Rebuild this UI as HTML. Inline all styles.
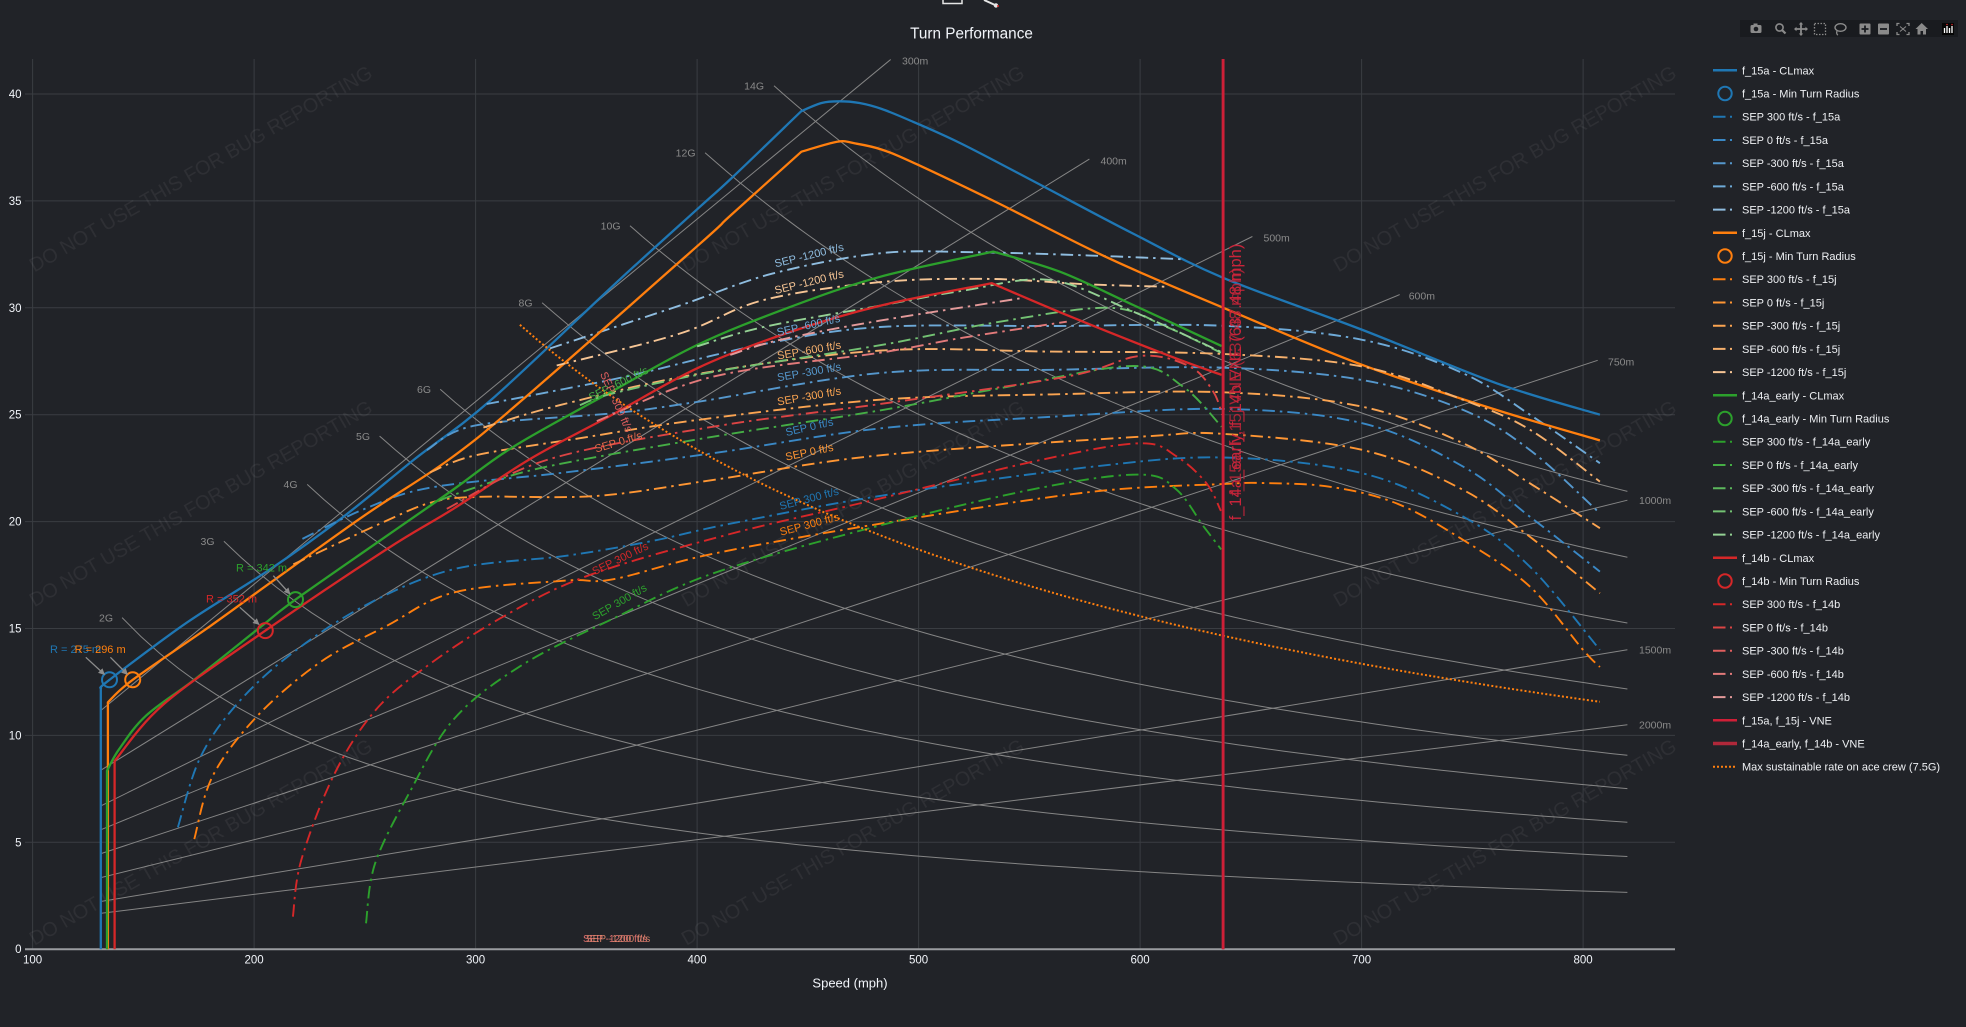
<!DOCTYPE html>
<html><head><meta charset="utf-8">
<style>
html,body{margin:0;padding:0;background:#212328;width:1966px;height:1027px;overflow:hidden}
svg{display:block;font-family:"Liberation Sans",Arial,sans-serif}
</style></head><body>
<svg id="s" width="1966" height="1027" viewBox="0 0 1966 1027" xmlns="http://www.w3.org/2000/svg">
<defs>
<clipPath id="cp"><rect x="25" y="59" width="1650" height="891"/></clipPath>
<marker id="ah" viewBox="0 0 10 10" refX="9" refY="5" markerWidth="5" markerHeight="5" orient="auto"><path d="M0,0L10,5L0,10z" fill="#8c8c8c"/></marker>
</defs>
<rect width="1966" height="1027" fill="#212328"/>

<!-- top icons -->
<path d="M943,0V3.5H962V0" stroke="#e6e6e6" fill="none" stroke-width="1.5"/>
<path d="M984,0L995,5" stroke="#e6e6e6" stroke-width="2"/><circle cx="996" cy="5.5" r="2.2" fill="#e6e6e6"/><circle cx="998" cy="6" r="1" fill="#d62728"/>

<!-- title -->
<text x="971.5" y="38.5" text-anchor="middle" font-size="15.3" fill="#f2f5fa">Turn Performance</text>

<!-- modebar -->
<g>
<rect x="1740" y="20" width="218" height="17" fill="#191b1f"/>
<g fill="#8a8a8a" stroke="#8a8a8a">
<rect x="1750.5" y="25" width="11" height="8" rx="1.5" stroke="none"/><rect x="1753.5" y="23.5" width="4" height="2" stroke="none"/><circle cx="1756" cy="29" r="2.3" fill="#191b1f" stroke="none"/>
<circle cx="1779.5" cy="27.5" r="3.6" fill="none" stroke-width="1.6"/><path d="M1782,30L1785.5,33.5" stroke-width="2.2"/>
<path d="M1801,23V35M1795,29H1807" stroke-width="1.8" fill="none"/><path d="M1801,22l-2.2,2.5h4.4zM1801,36l-2.2,-2.5h4.4zM1794,29l2.5,-2.2v4.4zM1808,29l-2.5,-2.2v4.4z" stroke="none"/>
<rect x="1814.5" y="23.5" width="11" height="11" fill="none" stroke-width="1.3" stroke-dasharray="1.5 1.5"/>
<ellipse cx="1840.5" cy="27.5" rx="5.5" ry="3.8" fill="none" stroke-width="1.4"/><path d="M1837,31Q1836,34 1838,35" fill="none" stroke-width="1.3"/>
<rect x="1859.5" y="23.5" width="11" height="11" rx="1" stroke="none"/><path d="M1865,25.5V32.5M1861.5,29H1868.5" stroke="#191b1f" stroke-width="1.8"/>
<rect x="1878" y="23.5" width="11" height="11" rx="1" stroke="none"/><path d="M1880,29H1887" stroke="#191b1f" stroke-width="1.8"/>
<path d="M1897,26V23.5H1899.5M1906.5,23.5H1909V26M1909,32V34.5H1906.5M1899.5,34.5H1897V32" fill="none" stroke-width="1.3"/><path d="M1900,26.5L1906,31.5M1906,26.5L1900,31.5" stroke-width="1"/>
<path d="M1921.7,23L1915.5,29H1917.5V34.5H1920.5V31H1923V34.5H1926V29H1928z" stroke="none"/>
</g>
<rect x="1942" y="23" width="12" height="12" fill="#050505"/>
<path d="M1944.5,33V28M1947,33V26M1949.5,33V28M1952,33V26" stroke="#ffffff" stroke-width="1.3"/>
<circle cx="1947" cy="24.5" r="0.8" fill="#d62728"/><circle cx="1952" cy="24.5" r="0.8" fill="#d62728"/>
</g>

<g id="grid"></g>
<g id="ref" clip-path="url(#cp)"></g>

<!-- G line labels -->
<g font-size="10.5" fill="#8a8a8a" text-anchor="end">
<text x="113" y="621.3">2G</text>
<text x="214.5" y="545">3G</text>
<text x="297.5" y="488.1">4G</text>
<text x="370" y="439.8">5G</text>
<text x="431" y="392.9">6G</text>
<text x="532.5" y="306.4">8G</text>
<text x="620.5" y="229.4">10G</text>
<text x="695.5" y="156.5">12G</text>
<text x="764" y="89.4">14G</text>
</g>
<!-- radius labels -->
<g font-size="10.5" fill="#8a8a8a">
<text x="902" y="64.4">300m</text>
<text x="1100.5" y="164.4">400m</text>
<text x="1263.5" y="241.7">500m</text>
<text x="1408.7" y="299.4">600m</text>
<text x="1608" y="365.4">750m</text>
<text x="1639" y="504.2">1000m</text>
<text x="1639" y="653.6">1500m</text>
<text x="1639" y="728.4">2000m</text>
</g>

<!-- watermark -->
<g font-size="20" fill="#ffffff" fill-opacity="0.06" text-anchor="middle">
<text transform="translate(200.6,168.6) rotate(-30)" dy="7" textLength="392" lengthAdjust="spacingAndGlyphs">DO NOT USE THIS FOR BUG REPORTING</text>
<text transform="translate(852.6,168.6) rotate(-30)" dy="7" textLength="392" lengthAdjust="spacingAndGlyphs">DO NOT USE THIS FOR BUG REPORTING</text>
<text transform="translate(1504.6,168.6) rotate(-30)" dy="7" textLength="392" lengthAdjust="spacingAndGlyphs">DO NOT USE THIS FOR BUG REPORTING</text>
<text transform="translate(200.6,503.4) rotate(-30)" dy="7" textLength="392" lengthAdjust="spacingAndGlyphs">DO NOT USE THIS FOR BUG REPORTING</text>
<text transform="translate(852.6,503.4) rotate(-30)" dy="7" textLength="392" lengthAdjust="spacingAndGlyphs">DO NOT USE THIS FOR BUG REPORTING</text>
<text transform="translate(1504.6,503.4) rotate(-30)" dy="7" textLength="392" lengthAdjust="spacingAndGlyphs">DO NOT USE THIS FOR BUG REPORTING</text>
<text transform="translate(200.6,842) rotate(-30)" dy="7" textLength="392" lengthAdjust="spacingAndGlyphs">DO NOT USE THIS FOR BUG REPORTING</text>
<text transform="translate(852.6,842) rotate(-30)" dy="7" textLength="392" lengthAdjust="spacingAndGlyphs">DO NOT USE THIS FOR BUG REPORTING</text>
<text transform="translate(1504.6,842) rotate(-30)" dy="7" textLength="392" lengthAdjust="spacingAndGlyphs">DO NOT USE THIS FOR BUG REPORTING</text>
</g>

<g id="cur" clip-path="url(#cp)"></g>

<!-- min turn radius markers -->
<g fill="none" stroke-width="2">
<circle cx="109.5" cy="679.8" r="7.5" stroke="#1f77b4"/>
<circle cx="132.7" cy="679.8" r="7.5" stroke="#ff7f0e"/>
<circle cx="295.5" cy="599.6" r="7.5" stroke="#2ca02c"/>
<circle cx="265.3" cy="630.6" r="7.5" stroke="#d62728"/>
</g>
<!-- annotations -->
<g stroke="#8c8c8c" stroke-width="1.3" marker-end="url(#ah)">
<line x1="85.8" y1="657.3" x2="104.5" y2="674.5"/>
<line x1="110.4" y1="657.3" x2="127.5" y2="674.5"/>
<line x1="273.3" y1="575.7" x2="290" y2="594"/>
<line x1="239.8" y1="607.3" x2="259" y2="624.5"/>
</g>
<g font-size="11">
<text x="50" y="653" fill="#1f77b4">R = 275 m</text>
<text x="74.6" y="653" fill="#ff7f0e">R = 296 m</text>
<text x="236" y="571.3" fill="#2ca02c">R = 342 m</text>
<text x="206" y="602.3" fill="#d62728">R = 352 m</text>
</g>

<!-- SEP labels -->
<g font-size="11" text-anchor="middle">
<text transform="translate(809,255) rotate(-14)" dy="4" fill="#8fbde0">SEP -1200 ft/s</text>
<text transform="translate(809,281.7) rotate(-14)" dy="4" fill="#f6c595">SEP -1200 ft/s</text>
<text transform="translate(808.3,325) rotate(-13)" dy="4" fill="#6eaad8">SEP -600 ft/s</text>
<text transform="translate(809,350) rotate(-10)" dy="4" fill="#f6b06c">SEP -600 ft/s</text>
<text transform="translate(809,371.7) rotate(-10)" dy="4" fill="#5597cc">SEP -300 ft/s</text>
<text transform="translate(809,396) rotate(-10)" dy="4" fill="#fba451">SEP -300 ft/s</text>
<text transform="translate(809.3,426.7) rotate(-13)" dy="4" fill="#3a88c5">SEP 0 ft/s</text>
<text transform="translate(809.3,451.7) rotate(-12)" dy="4" fill="#ff9633">SEP 0 ft/s</text>
<text transform="translate(809,498.3) rotate(-15)" dy="4" fill="#1f77b4">SEP 300 ft/s</text>
<text transform="translate(809.3,524) rotate(-15)" dy="4" fill="#ff7f0e">SEP 300 ft/s</text>
<text transform="translate(620,558.3) rotate(-26)" dy="4" fill="#d62728">SEP 300 ft/s</text>
<text transform="translate(619.3,601.7) rotate(-30)" dy="4" fill="#2ca02c">SEP 300 ft/s</text>
<text transform="translate(618.3,383.3) rotate(-26)" dy="4" fill="#45ad45">SEP -600 ft/s</text>
<text transform="translate(616.7,401.7) rotate(66)" dy="4" fill="#e05e5e">SEP -300 ft/s</text>
<text transform="translate(618.3,441.7) rotate(-17)" dy="4" fill="#ec6a4a">SEP 0 ft/s</text>
</g>
<g font-size="10">
<text x="583" y="942" fill="#e07070">SEP -1200 ft/s</text>
<text x="586" y="942" fill="#ee8f72" fill-opacity="0.85">SEP -1200 ft/s</text>
</g>

<!-- VNE -->
<line x1="1223.1" y1="59" x2="1223.1" y2="949.2" stroke="#b5253a" stroke-width="3"/>
<line x1="1223.1" y1="59" x2="1223.1" y2="949.2" stroke="#d01f37" stroke-width="2"/>
<g font-size="16.5" fill="#c8243a" text-anchor="middle">
<text transform="translate(1241,382) rotate(-90)">f_14a_early, f_14b VNE (637.48 mph)</text>
<text transform="translate(1241,382) rotate(-90)" fill-opacity="0.8">f_15a, f_15j VNE (637.48 mph)</text>
</g>

<!-- tick labels -->
<g font-size="11.5" fill="#f2f5fa" text-anchor="end">
<text x="21.5" y="98">40</text>
<text x="21.5" y="204.9">35</text>
<text x="21.5" y="311.8">30</text>
<text x="21.5" y="418.7">25</text>
<text x="21.5" y="525.6">20</text>
<text x="21.5" y="632.5">15</text>
<text x="21.5" y="739.4">10</text>
<text x="21.5" y="846.3">5</text>
<text x="21.5" y="953.2">0</text>
</g>
<g font-size="11.5" fill="#f2f5fa" text-anchor="middle">
<text x="32.6" y="963.5">100</text>
<text x="254.1" y="963.5">200</text>
<text x="475.6" y="963.5">300</text>
<text x="697.1" y="963.5">400</text>
<text x="918.6" y="963.5">500</text>
<text x="1140.1" y="963.5">600</text>
<text x="1361.6" y="963.5">700</text>
<text x="1583.1" y="963.5">800</text>
</g>
<text x="850" y="987.5" font-size="13" fill="#f2f5fa" text-anchor="middle">Speed (mph)</text>

<!-- legend -->
<g id="leg">
<g stroke-width="2.5">
<line x1="1713" y1="70.3" x2="1737" y2="70.3" stroke="#1f77b4"/>
<line x1="1713" y1="232.8" x2="1737" y2="232.8" stroke="#ff7f0e"/>
<line x1="1713" y1="395.3" x2="1737" y2="395.3" stroke="#2ca02c"/>
<line x1="1713" y1="557.8" x2="1737" y2="557.8" stroke="#d62728"/>
<line x1="1713" y1="720.3" x2="1737" y2="720.3" stroke="#d01f37"/>
<line x1="1713" y1="743.5" x2="1737" y2="743.5" stroke="#b0283a" stroke-width="3.5"/>
</g>
<line x1="1713" y1="766.7" x2="1737" y2="766.7" stroke="#ff7f0e" stroke-width="2" stroke-dasharray="2 2"/>
<g fill="none" stroke-width="2">
<circle cx="1725" cy="93.5" r="6.7" stroke="#1f77b4"/>
<circle cx="1725" cy="256" r="6.7" stroke="#ff7f0e"/>
<circle cx="1725" cy="418.5" r="6.7" stroke="#2ca02c"/>
<circle cx="1725" cy="581" r="6.7" stroke="#d62728"/>
</g>
<g stroke-width="2" stroke-dasharray="12.5 4.5 2 10">
<line x1="1713" y1="116.7" x2="1737" y2="116.7" stroke="#1f77b4"/>
<line x1="1713" y1="140" x2="1737" y2="140" stroke="#3a88c5"/>
<line x1="1713" y1="163.2" x2="1737" y2="163.2" stroke="#5597cc"/>
<line x1="1713" y1="186.4" x2="1737" y2="186.4" stroke="#6eaad8"/>
<line x1="1713" y1="209.6" x2="1737" y2="209.6" stroke="#8fbde0"/>
<line x1="1713" y1="279.2" x2="1737" y2="279.2" stroke="#ff7f0e"/>
<line x1="1713" y1="302.5" x2="1737" y2="302.5" stroke="#ff9633"/>
<line x1="1713" y1="325.7" x2="1737" y2="325.7" stroke="#fba451"/>
<line x1="1713" y1="348.9" x2="1737" y2="348.9" stroke="#f6b06c"/>
<line x1="1713" y1="372.1" x2="1737" y2="372.1" stroke="#f6c595"/>
<line x1="1713" y1="441.7" x2="1737" y2="441.7" stroke="#2ca02c"/>
<line x1="1713" y1="465" x2="1737" y2="465" stroke="#45ad45"/>
<line x1="1713" y1="488.2" x2="1737" y2="488.2" stroke="#5cb85c"/>
<line x1="1713" y1="511.4" x2="1737" y2="511.4" stroke="#73c273"/>
<line x1="1713" y1="534.6" x2="1737" y2="534.6" stroke="#94d194"/>
<line x1="1713" y1="604.2" x2="1737" y2="604.2" stroke="#d62728"/>
<line x1="1713" y1="627.5" x2="1737" y2="627.5" stroke="#dc4444"/>
<line x1="1713" y1="650.7" x2="1737" y2="650.7" stroke="#e05e5e"/>
<line x1="1713" y1="673.9" x2="1737" y2="673.9" stroke="#e27a7a"/>
<line x1="1713" y1="697.1" x2="1737" y2="697.1" stroke="#e49a9a"/>
</g>
<g font-size="11" fill="#eef0f3">
<text x="1742" y="74.3">f_15a - CLmax</text>
<text x="1742" y="97.5">f_15a - Min Turn Radius</text>
<text x="1742" y="120.7">SEP 300 ft/s - f_15a</text>
<text x="1742" y="144">SEP 0 ft/s - f_15a</text>
<text x="1742" y="167.2">SEP -300 ft/s - f_15a</text>
<text x="1742" y="190.4">SEP -600 ft/s - f_15a</text>
<text x="1742" y="213.6">SEP -1200 ft/s - f_15a</text>
<text x="1742" y="236.8">f_15j - CLmax</text>
<text x="1742" y="260">f_15j - Min Turn Radius</text>
<text x="1742" y="283.2">SEP 300 ft/s - f_15j</text>
<text x="1742" y="306.5">SEP 0 ft/s - f_15j</text>
<text x="1742" y="329.7">SEP -300 ft/s - f_15j</text>
<text x="1742" y="352.9">SEP -600 ft/s - f_15j</text>
<text x="1742" y="376.1">SEP -1200 ft/s - f_15j</text>
<text x="1742" y="399.3">f_14a_early - CLmax</text>
<text x="1742" y="422.5">f_14a_early - Min Turn Radius</text>
<text x="1742" y="445.7">SEP 300 ft/s - f_14a_early</text>
<text x="1742" y="469">SEP 0 ft/s - f_14a_early</text>
<text x="1742" y="492.2">SEP -300 ft/s - f_14a_early</text>
<text x="1742" y="515.4">SEP -600 ft/s - f_14a_early</text>
<text x="1742" y="538.6">SEP -1200 ft/s - f_14a_early</text>
<text x="1742" y="561.8">f_14b - CLmax</text>
<text x="1742" y="585">f_14b - Min Turn Radius</text>
<text x="1742" y="608.2">SEP 300 ft/s - f_14b</text>
<text x="1742" y="631.5">SEP 0 ft/s - f_14b</text>
<text x="1742" y="654.7">SEP -300 ft/s - f_14b</text>
<text x="1742" y="677.9">SEP -600 ft/s - f_14b</text>
<text x="1742" y="701.1">SEP -1200 ft/s - f_14b</text>
<text x="1742" y="724.3">f_15a, f_15j - VNE</text>
<text x="1742" y="747.5">f_14a_early, f_14b - VNE</text>
<text x="1742" y="770.7">Max sustainable rate on ace crew (7.5G)</text>
</g>
</g>
</svg>
<script>
(function(){
var NS='http://www.w3.org/2000/svg';
function X(v){return 32.6+(v-100)*2.215;}
function Y(w){return 949.2-w*21.38;}
function f(n){return n.toFixed(1);}
function add(g,tag,a){var e=document.createElementNS(NS,tag);for(var k in a)e.setAttribute(k,a[k]);document.getElementById(g).appendChild(e);return e;}
function poly(pts){return pts.map(function(p,i){return (i?'L':'M')+f(X(p[0]))+','+f(Y(p[1]));}).join('');}
function seg(P,first){
  var d=first?('M'+f(P[0][0])+','+f(P[0][1])):'';
  for(var i=0;i<P.length-1;i++){
    var p0=P[i-1]||P[i],p1=P[i],p2=P[i+1],p3=P[i+2]||P[i+1];
    d+='C'+f(p1[0]+(p2[0]-p0[0])/6)+','+f(p1[1]+(p2[1]-p0[1])/6)+' '+f(p2[0]-(p3[0]-p1[0])/6)+','+f(p2[1]-(p3[1]-p1[1])/6)+' '+f(p2[0])+','+f(p2[1]);
  }
  return d;
}
function sm(){var d='';for(var j=0;j<arguments.length;j++){var P=arguments[j].map(function(p){return [X(p[0]),Y(p[1])];});d+=seg(P,j===0);}return d;}

// grid
for(var v=100;v<=800;v+=100){add('grid','line',{x1:f(X(v)),y1:59,x2:f(X(v)),y2:949.2,stroke:'#3a3d42','stroke-width':1});}
for(var w=5;w<=40;w+=5){add('grid','line',{x1:25,y1:f(Y(w)),x2:1675,y2:f(Y(w)),stroke:'#3a3d42','stroke-width':1});}
add('grid','line',{x1:25,y1:949.2,x2:1675,y2:949.2,stroke:'#9a9ca0','stroke-width':2});

// reference G lines and radius lines
var g0=9.81,r2d=57.2958,mps=0.44704;
var G=[[2,15.51],[3,19.08],[4,21.74],[5,24.0],[6,26.19],[8,30.24],[10,33.84],[12,37.25],[14,40.39]];
G.forEach(function(a){var n=a[0],w0=a[1];var k=g0*Math.sqrt(n*n-1)*r2d;var v0=k/w0/mps;var pts=[];
  for(var i=0;i<=80;i++){var vv=v0+(820-v0)*i/80;pts.push([vv,k/(vv*mps)]);}
  add('ref','path',{d:poly(pts),fill:'none',stroke:'#858585','stroke-width':1});});
var R=[[300,487.4],[400,577.1],[500,650.7],[600,717.2],[750,806.6],[1000,820],[1500,820],[2000,820]];
R.forEach(function(a){var r=a[0],ve=a[1];var w1=131*mps*r2d/r,w2=ve*mps*r2d/r;
  add('ref','path',{d:poly([[131,w1],[ve,w2]]),fill:'none',stroke:'#858585','stroke-width':1});});

function solid(d,c,wd){add('cur','path',{d:d,fill:'none',stroke:c,'stroke-width':wd||2.3,'stroke-linejoin':'round'});}
function dd(pts,c){add('cur','path',{d:sm(pts),fill:'none',stroke:c,'stroke-width':1.9,'stroke-dasharray':'12.5 5 2.5 5'});}

// f_15a
solid(sm([[130.8,0],[130.8,12.2]],[[130.8,12.2],[134.7,12.6],[170,15.3],[207.7,17.8],[240,20.2],[272.2,22.9],[307,25.69],[363.4,31.16],[401.3,34.73],[414.9,36.0],[447.1,39.2]],[[447.1,39.2],[456.2,39.58],[464.2,39.66],[473.3,39.58],[483.4,39.3],[497.5,38.7],[519.6,37.66],[555.9,35.7],[596.3,33.5],[637.6,31.4],[700.5,28.96],[761,26.47],[807.6,25.0]]),'#1f77b4');
dd([[165.6,5.7],[175.4,8.9],[191.6,11.39],[215.7,13.73],[250,16.07],[290.3,17.78],[340.7,18.4],[380,19.1],[414.9,19.9],[482.6,21.2],[576.1,22.54],[637.6,23.0],[700.5,22.26],[745.9,20.23],[776,17.89],[807.6,14.0]],'#1f77b4');
dd([[221.8,19.19],[250,20.6],[280.2,21.6],[340.7,22.3],[407.3,23.2],[482.6,24.36],[560,24.9],[637.6,25.27],[700.5,24.6],[745.9,22.57],[776,20.23],[807.6,17.66]],'#3a88c5');
dd([[278,23.35],[300,24.5],[362.2,25.07],[400,25.6],[482.6,26.95],[560,27.1],[637.6,27.2],[700.5,26.62],[745.9,25.22],[776,23.35],[807.6,20.39]],'#5597cc');
dd([[305,25.5],[340,26.2],[371.2,26.86],[430,28.3],[482.6,29.1],[560,29.15],[637.6,29.16],[700.5,28.5],[745.9,26.93],[776,25.0],[807.6,22.73]],'#6eaad8');
dd([[333.6,28.1],[392,30.1],[434,31.6],[482.6,32.55],[525,32.6],[576,32.45],[619.5,32.27]],'#8fbde0');

// f_15j
solid(sm([[134.0,0],[134.0,11.55]],[[134.0,11.55],[145.2,12.6],[180,15.1],[208.7,17.24],[250,20.3],[288.3,22.93],[321.1,25.69],[401.3,33.0],[414.9,34.3],[447.1,37.3]],[[447.1,37.3],[463.2,37.77],[471.3,37.69],[483.4,37.4],[499.5,36.7],[535.8,34.9],[586.2,32.3],[637.6,30.0],[700.5,27.32],[761,25.22],[807.6,23.8]]),'#ff7f0e');
dd([[173,5.15],[181.4,8.12],[201.6,10.92],[229.8,13.42],[260,15.13],[290.3,16.69],[340.7,17.24],[362,17.3],[407.3,18.5],[482.6,19.9],[576.1,21.37],[637.6,21.76],[656.7,21.8],[685.8,21.63],[715.8,20.85],[745.9,19.14],[776,16.96],[800,14.0],[807.6,13.2]],'#ff7f0e');
dd([[217.7,18.0],[256.8,19.9],[280.2,20.9],[302,21.16],[354.7,21.2],[407.3,21.95],[482.6,23.1],[600,23.97],[637.6,24.1],[700.5,23.35],[745.9,21.48],[776,19.29],[807.6,16.65]],'#ff9633');
dd([[279.4,22.3],[300,23.1],[347.1,23.9],[400,24.75],[482.6,25.7],[560,25.95],[637.6,26.05],[700.5,25.37],[745.9,23.66],[776,21.79],[807.6,19.69]],'#fba451');
dd([[303.5,24.4],[338.1,25.45],[400,26.9],[482.6,28.0],[560,27.95],[637.6,27.84],[700.5,27.25],[745.9,25.69],[776,24.3],[807.6,21.87]],'#f6b06c');
dd([[336.6,27.3],[392.3,28.8],[429.9,30.36],[482.6,31.2],[531.7,31.35],[576,31.1],[613,30.98]],'#f6c595');

// f_14a_early
solid(sm([[133.6,0],[133.6,8.35]],[[133.6,8.35],[139.1,9.36],[151.2,10.92],[173.4,12.64],[203.6,15.13],[218.7,16.35],[260,19.34],[290,21.5],[317,23.5],[360,26.0],[400,28.26],[441,30.0],[482.6,31.45],[533.7,32.63]],[[533.7,32.63],[563.8,31.69],[596.9,30.13],[636.8,28.21]]),'#2ca02c');
dd([[250.5,1.21],[254.6,4.0],[270.2,7.34],[290.3,10.77],[320.5,13.26],[360.9,15.4],[407.3,17.58],[482.6,19.82],[555.9,21.6],[600.3,22.2],[616.4,21.5],[628.5,19.8],[636.6,18.7]],'#2ca02c');
dd([[283.9,21.0],[300,21.6],[332.1,22.57],[407.3,23.97],[482.6,25.2],[540,26.3],[596.9,27.28],[619.5,26.3],[636.8,24.44]],'#45ad45');
dd([[347.1,25.45],[362.2,26.0],[407.3,27.0],[482.6,28.25],[536.7,29.35],[586.4,30.0],[612,29.1],[636.5,27.9]],'#73c273');
dd([[400,28.2],[430,29.1],[482.6,30.1],[520,30.8],[559.3,31.3],[596.9,29.82],[636.3,27.95]],'#94d194');

// f_14b
solid(sm([[137.0,0],[137.0,8.8]],[[137.0,8.8],[159.3,11.47],[205.1,14.9],[260,18.72],[290,20.6],[324.6,22.93],[360,24.9],[400,27.17],[440,28.8],[482.6,30.1],[533,31.15]],[[533,31.15],[566.9,29.66],[612,27.8],[636.8,26.86]]),'#d62728');
dd([[217.5,1.52],[221.3,4.17],[235.9,8.12],[254,11.08],[276.2,13.1],[310.5,15.44],[350.7,17.47],[414.9,19.42],[475.3,20.9],[555.9,22.9],[600,23.66],[616.6,23.04],[630,21.79],[636.5,20.5]],'#d62728');
dd([[287,20.6],[332.1,22.88],[407.3,24.44],[482.6,25.5],[566.9,26.78],[600,27.75],[622.5,27.25],[633,26.08],[637,25.0]],'#dc4444');
dd([[354.7,24.7],[407.3,26.78],[482.6,27.9],[520,28.6],[566.9,29.35]],'#e27a7a');
dd([[415,27.8],[437.4,28.5],[482.6,29.4],[545.8,30.44]],'#e49a9a');

// max sustainable 7.5G
var k75=g0*Math.sqrt(7.5*7.5-1)*r2d,pm=[];
for(var i=0;i<=60;i++){var vv=320+(807.6-320)*i/60;pm.push([vv,k75/(vv*mps)]);}
add('cur','path',{d:poly(pm),fill:'none',stroke:'#ff7f0e','stroke-width':2,'stroke-dasharray':'2 2.2'});
})();
</script>
</body></html>
